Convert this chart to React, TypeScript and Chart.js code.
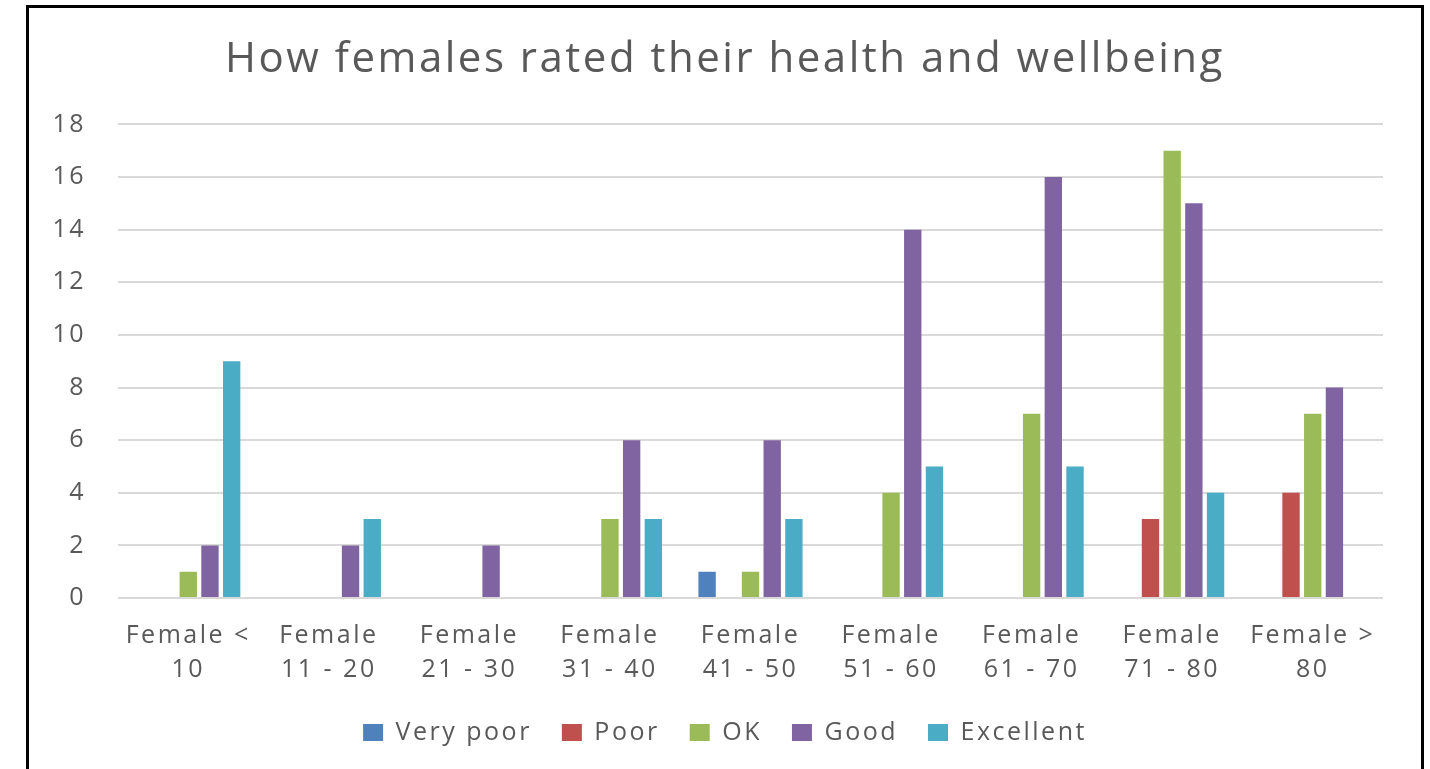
import React, { useEffect, useRef } from "react";
import { Chart, registerables } from "chart.js";

Chart.register(...registerables);

const categories: string[][] = [
  ["Female <", "10"],
  ["Female", "11 - 20"],
  ["Female", "21 - 30"],
  ["Female", "31 - 40"],
  ["Female", "41 - 50"],
  ["Female", "51 - 60"],
  ["Female", "61 - 70"],
  ["Female", "71 - 80"],
  ["Female >", "80"],
];

const veryPoor = [0, 0, 0, 0, 1, 0, 0, 0, 0];
const poor = [0, 0, 0, 0, 0, 0, 0, 3, 4];
const ok = [1, 0, 0, 3, 1, 4, 7, 17, 7];
const good = [2, 2, 2, 6, 6, 14, 16, 15, 8];
const excellent = [9, 3, 0, 3, 3, 5, 5, 4, 0];

const seriesNames = ["Very poor", "Poor", "OK", "Good", "Excellent"];
const seriesColors = ["#4F81BD", "#C0504D", "#9BBB59", "#8064A2", "#4BACC6"];

const FONT = "'Open Sans', 'Liberation Sans', sans-serif";
const TEXT = "#595959";

const spacingPlugin = {
  id: "letterSpacing",
  beforeUpdate(chart: any) {
    (chart.ctx as any).letterSpacing = "2.5px";
  },
  beforeDraw(chart: any) {
    (chart.ctx as any).letterSpacing = "2.5px";
  },
};

export default function App() {
  const ref = useRef<HTMLCanvasElement | null>(null);

  useEffect(() => {
    document.body.style.margin = "0";
    const values = [veryPoor, poor, ok, good, excellent];
    const chart = new Chart(ref.current!, {
      type: "bar",
      data: {
        labels: categories,
        datasets: values.map((v, i) => ({
          label: seriesNames[i],
          data: v,
          backgroundColor: seriesColors[i],
          borderWidth: 0,
          categoryPercentage: 0.772,
          barPercentage: 0.8,
        })),
      },
      plugins: [spacingPlugin],
      options: {
        responsive: false,
        animation: false,
        devicePixelRatio: 1,
        layout: { padding: { left: 0, right: 0, top: 0, bottom: 14 } },
        plugins: {
          title: {
            display: true,
            text: "How females rated their health and wellbeing",
            color: TEXT,
            font: { family: FONT, size: 42, weight: "normal" },
            padding: { top: 27, bottom: 39 },
          },
          legend: {
            position: "bottom",
            labels: {
              color: TEXT,
              font: { family: FONT, size: 25 },
              boxWidth: 20,
              boxHeight: 17,
              padding: 30,
            },
          },
          tooltip: { enabled: false },
        },
        scales: {
          x: {
            grid: { display: false },
            border: { display: false },
            ticks: {
              color: TEXT,
              font: { family: FONT, size: 25, lineHeight: 1.36 },
              padding: 13,
              maxRotation: 0,
              autoSkip: false,
            },
            afterFit: (axis: any) => {
              axis.height = 92;
            },
          },
          y: {
            min: 0,
            max: 18,
            ticks: {
              stepSize: 2,
              color: TEXT,
              font: { family: FONT, size: 25 },
              padding: 32,
            },
            grid: { color: "#D9D9D9", lineWidth: 2, drawTicks: false },
            border: { display: false },
            afterFit: (axis: any) => {
              axis.width = 89;
            },
          },
          yRight: {
            position: "right",
            min: 0,
            max: 18,
            ticks: { display: false },
            grid: { display: false },
            border: { display: false },
            afterFit: (axis: any) => {
              axis.width = 38;
            },
          },
        },
      },
    });
    return () => chart.destroy();
  }, []);

  return (
    <div style={{ position: "relative", width: 1430, height: 769, overflow: "hidden", background: "#fff" }}>
      <div
        style={{
          position: "absolute",
          left: 26,
          top: 5,
          width: 1392,
          height: 800,
          border: "3px solid #000",
        }}
      />
      <canvas
        ref={ref}
        width={1392}
        height={761}
        style={{ position: "absolute", left: 29, top: 8, width: 1392, height: 761 }}
      />
    </div>
  );
}
